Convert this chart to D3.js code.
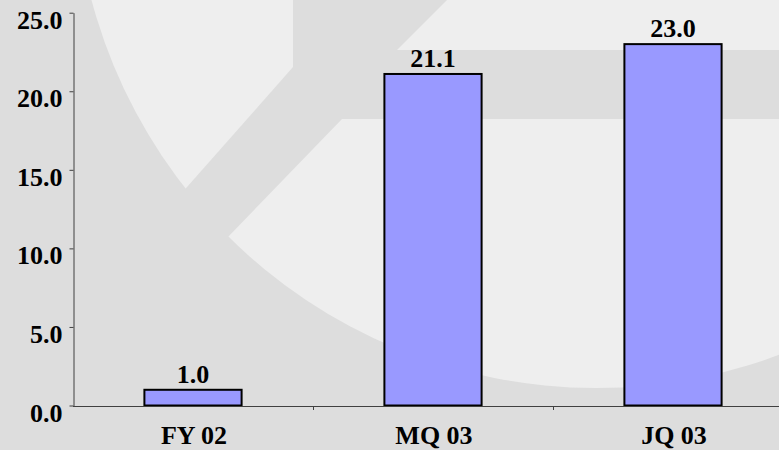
<!DOCTYPE html>
<html>
<head>
<meta charset="utf-8">
<script src="https://cdn.jsdelivr.net/npm/d3@7"></script>
<style>
  html, body { margin: 0; padding: 0; background: #dddddd; }
  svg { display: block; }
  text { font-family: "Liberation Serif", "Times New Roman", serif; font-weight: bold; fill: #000; }
</style>
</head>
<body>
<svg id="chart" width="779" height="450"></svg>
<script>
// ---- data ----
const categories = ["FY 02", "MQ 03", "JQ 03"];
const values = [1.0, 21.1, 23.0];
const yTicks = [0, 5, 10, 15, 20, 25];

// ---- layout ----
const W = 779, H = 450;
const svg = d3.select("#chart");

const x = d3.scaleBand()
  .domain(categories)
  .range([73, 793])
  .paddingInner(0.595)
  .paddingOuter(0.2975);

const y = d3.scaleLinear().domain([0, 25]).range([405.5, 12.7]);

// ---- background watermark ----
const bg = svg.append("g");
bg.append("rect").attr("width", W).attr("height", H).attr("fill", "#dddddd");
const defs = svg.append("defs");
defs.append("clipPath").attr("id", "logoClip")
  .append("circle").attr("cx", 596).attr("cy", -134).attr("r", 522);
const logo = bg.append("g").attr("clip-path", "url(#logoClip)");
const light = "#eeeeee";
const shapes = [
  [[-50,-200],[293,-200],[293,67],[187,187],[60,330],[-50,330]],
  [[497,-50],[900,-50],[900,50],[397,50]],
  [[342,119],[900,119],[900,600],[-26,500]]
];
shapes.forEach(p => {
  logo.append("path").attr("d", d3.line()(p) + "Z").attr("fill", light);
});

// ---- bars ----
svg.append("g").selectAll("rect")
  .data(values)
  .join("rect")
  .attr("x", (d, i) => x(categories[i]))
  .attr("y", d => y(d))
  .attr("width", x.bandwidth())
  .attr("height", d => y(0) - y(d))
  .attr("fill", "#9999ff")
  .attr("stroke", "#000")
  .attr("stroke-width", 2);

// value labels
svg.append("g").selectAll("text")
  .data(values)
  .join("text")
  .attr("x", (d, i) => x(categories[i]) + x.bandwidth() / 2)
  .attr("y", d => y(d) - 7)
  .attr("text-anchor", "middle")
  .style("font-size", "26px")
  .text(d => d3.format(".1f")(d));

// ---- y axis ----
const yAxis = svg.append("g")
  .attr("transform", "translate(73.5,0)")
  .call(d3.axisLeft(y).tickValues(yTicks).tickFormat(d3.format(".1f")).tickSize(4).tickSizeOuter(0));
yAxis.select(".domain").attr("stroke", "#404040");
yAxis.selectAll(".tick line").attr("stroke", "#404040");
yAxis.selectAll(".tick text")
  .attr("x", -11)
  .attr("dy", "15.5")
  .attr("fill", "#000")
  .style("font-size", "26px")
  .style("font-family", "'Liberation Serif', 'Times New Roman', serif")
  .style("font-weight", "bold");

// ---- x axis ----
const xAxisG = svg.append("g");
xAxisG.append("line")
  .attr("x1", 73).attr("x2", W)
  .attr("y1", Math.round(y(0)) + 0.5).attr("y2", Math.round(y(0)) + 0.5)
  .attr("stroke", "#404040");
const po = x.paddingOuter() * x.step();
xAxisG.selectAll("line.tk")
  .data(categories.slice(1))
  .join("line")
  .attr("class", "tk")
  .attr("x1", d => Math.round(x(d) - po) + 0.5)
  .attr("x2", d => Math.round(x(d) - po) + 0.5)
  .attr("y1", Math.round(y(0)) + 0.5)
  .attr("y2", Math.round(y(0)) + 4)
  .attr("stroke", "#404040");
xAxisG.selectAll("text")
  .data(categories)
  .join("text")
  .attr("x", d => x(d) + x.bandwidth() / 2 + 1)
  .attr("y", 444)
  .attr("text-anchor", "middle")
  .style("font-size", "26px")
  .text(d => d);
</script>
</body>
</html>
